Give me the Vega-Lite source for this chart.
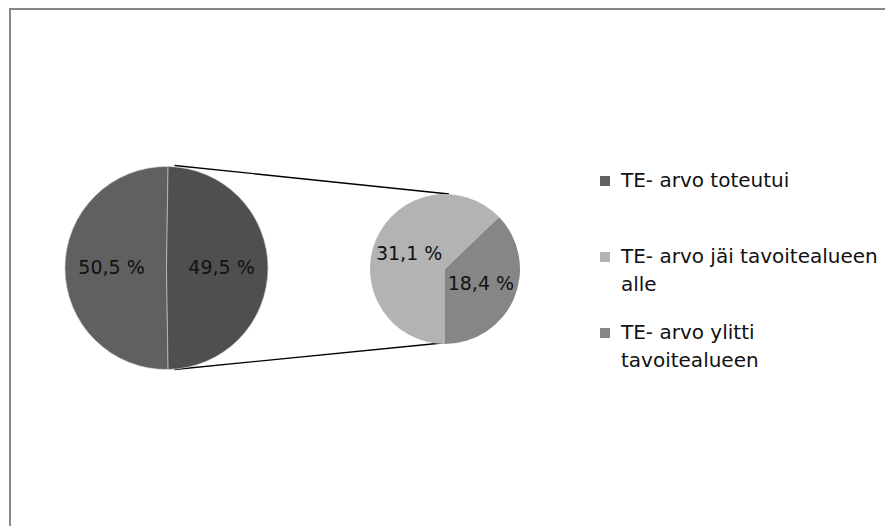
{
  "$schema": "https://vega.github.io/schema/vega-lite/v6.json",
  "width": 875,
  "height": 517,
  "autosize": {"type": "none"},
  "padding": {"left": 10, "top": 9, "right": 0, "bottom": 0},
  "background": "white",
  "view": {"stroke": null},
  "params": [
    {"name": "cx1", "expr": "156.5"},
    {"name": "cy1", "expr": "259"},
    {"name": "r1", "expr": "101.5"},
    {"name": "cx2", "expr": "435"},
    {"name": "cy2", "expr": "260"},
    {"name": "r2", "expr": "75"}
  ],
  "data": {
    "values": [
      {"pie": "main", "category": "TE- arvo toteutui", "value": 50.5, "label": "50,5 %", "ord": 2},
      {"pie": "main", "category": "Muu", "value": 49.5, "label": "49,5 %", "ord": 1},
      {"pie": "split", "category": "TE- arvo jäi tavoitealueen alle", "value": 31.1, "label": "31,1 %", "ord": 2},
      {"pie": "split", "category": "TE- arvo ylitti tavoitealueen", "value": 18.4, "label": "18,4 %", "ord": 1}
    ]
  },
  "layer": [
    {
      "mark": {"type": "rect", "x": 0, "y": 0, "x2": {"expr": "width + 30"}, "y2": {"expr": "height + 30"}, "fill": null, "stroke": "#898989", "strokeWidth": 2},
      "encoding": {}
    },
    {
      "transform": [{"filter": "datum.ord == 1 && datum.pie == 'main'"}],
      "mark": {"type": "rule", "stroke": "#000000", "strokeWidth": 1.3},
      "encoding": {
        "x": {"value": {"expr": "cx1 + 8"}},
        "y": {"value": {"expr": "cy1 - r1 - 1"}},
        "x2": {"value": {"expr": "cx2 + 4"}},
        "y2": {"value": {"expr": "cy2 - r2"}}
      }
    },
    {
      "transform": [{"filter": "datum.ord == 1 && datum.pie == 'main'"}],
      "mark": {"type": "rule", "stroke": "#000000", "strokeWidth": 1.3},
      "encoding": {
        "x": {"value": {"expr": "cx1 + 8"}},
        "y": {"value": {"expr": "cy1 + r1"}},
        "x2": {"value": {"expr": "cx2 - 3"}},
        "y2": {"value": {"expr": "cy2 + r2 - 1"}}
      }
    },
    {
      "transform": [{"filter": "datum.pie == 'main'"}],
      "mark": {"type": "arc", "x": {"expr": "cx1"}, "y": {"expr": "cy1"}, "radius": {"expr": "r1"}, "stroke": "#d0d0d0", "strokeWidth": 0.6},
      "encoding": {
        "theta": {"field": "value", "type": "quantitative", "stack": true, "scale": {"range": [0.0157, 6.2989]}},
        "order": {"field": "ord", "type": "quantitative"},
        "color": {"field": "category", "type": "nominal"}
      }
    },
    {
      "transform": [{"filter": "datum.pie == 'main'"}],
      "mark": {"type": "text", "x": {"expr": "cx1"}, "y": {"expr": "cy1"}, "radius": 55, "font": "DejaVu Sans", "fontSize": 19, "fill": "#111111", "align": "center", "baseline": "middle"},
      "encoding": {
        "theta": {"field": "value", "type": "quantitative", "stack": true, "scale": {"range": [0.0157, 6.2989]}},
        "order": {"field": "ord", "type": "quantitative"},
        "text": {"field": "label"}
      }
    },
    {
      "transform": [{"filter": "datum.pie == 'split'"}],
      "mark": {"type": "arc", "x": {"expr": "cx2"}, "y": {"expr": "cy2"}, "radius": {"expr": "r2"}},
      "encoding": {
        "theta": {"field": "value", "type": "quantitative", "stack": true, "scale": {"range": [0.806, 7.089]}},
        "order": {"field": "ord", "type": "quantitative"},
        "color": {"field": "category", "type": "nominal"}
      }
    },
    {
      "transform": [{"filter": "datum.pie == 'split'"}],
      "mark": {"type": "text", "x": {"expr": "cx2"}, "y": {"expr": "cy2"}, "radius": 39, "font": "DejaVu Sans", "fontSize": 19, "fill": "#111111", "align": "center", "baseline": "middle"},
      "encoding": {
        "theta": {"field": "value", "type": "quantitative", "stack": true, "scale": {"range": [0.806, 7.089]}},
        "order": {"field": "ord", "type": "quantitative"},
        "text": {"field": "label"}
      }
    }
  ],
  "resolve": {"scale": {"theta": "independent", "color": "shared"}},
  "encoding": {
    "color": {
      "field": "category",
      "type": "nominal",
      "scale": {
        "domain": ["TE- arvo toteutui", "Muu", "TE- arvo jäi tavoitealueen alle", "TE- arvo ylitti tavoitealueen"],
        "range": ["#606060", "#4f4f4f", "#b3b3b3", "#868686"]
      },
      "legend": {
        "title": null,
        "values": ["TE- arvo toteutui", "TE- arvo jäi tavoitealueen alle", "TE- arvo ylitti tavoitealueen"],
        "orient": "none",
        "legendX": 585,
        "legendY": 162,
        "direction": "vertical",
        "symbolType": "square",
        "symbolSize": 100,
        "symbolStrokeWidth": 0,
        "symbolOpacity": 1,
        "labelFont": "DejaVu Sans",
        "labelFontSize": 20,
        "labelColor": "#111111",
        "labelLimit": 400,
        "labelOffset": 6,
        "gridAlign": "all",
        "rowPadding": 28,
        "labelExpr": "datum.label == 'TE- arvo jäi tavoitealueen alle' ? ['TE- arvo jäi tavoitealueen', 'alle'] : datum.label == 'TE- arvo ylitti tavoitealueen' ? ['TE- arvo ylitti', 'tavoitealueen'] : [datum.label, '']",
        "encode": {
          "labels": {
            "update": {
              "lineHeight": {"value": 28}
            }
          }
        }
      }
    }
  }
}
